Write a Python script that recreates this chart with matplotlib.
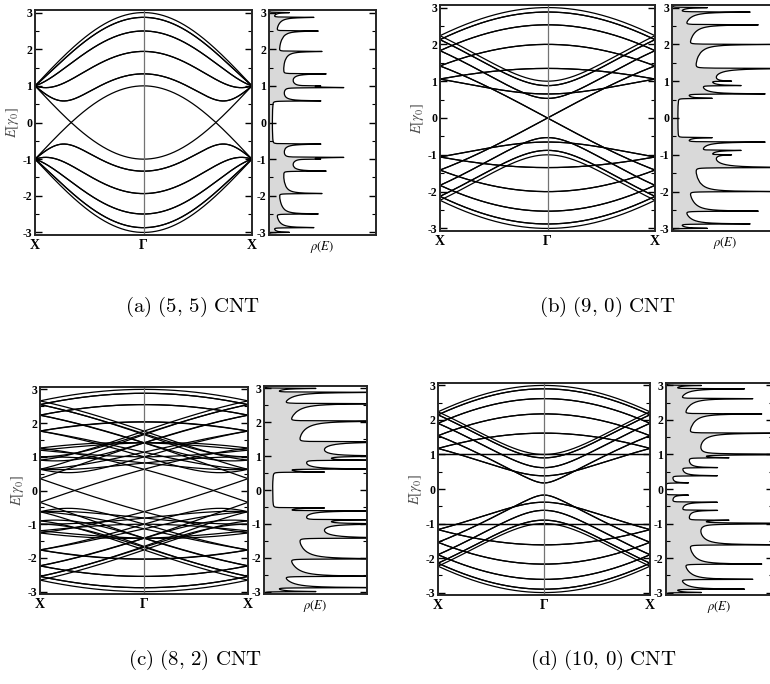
import numpy as np
import matplotlib as mp
mp.use('Agg')
import matplotlib.pyplot as plt
from matplotlib.ticker import MultipleLocator
from math import gcd

# nanotube chiral indices (n, m) and subfigure letters
chiralities = [(5, 5), (9, 0), (8, 2), (10, 0)]
letters = ['a', 'b', 'c', 'd']
gamma0 = 1.0          # nearest neighbour hopping, energies in units of gamma0
eta = 0.0035          # lorentzian broadening used for rho(E)
dos_max = 23.0        # x-limit of the DOS panels (states / unit cell / gamma0)
k_labels = ['X', 'Γ', 'X']
e_ticks = [-3, -2, -1, 0, 1, 2, 3]

# panel boxes in pixels: (left, right, top, bottom)
band_px = [(35, 252, 10, 235), (440, 655, 5, 231), (40, 248, 387, 594), (438, 650, 383, 595)]
dos_px = [(269, 376, 10, 235), (672, 779, 5, 231), (264, 367, 386, 594), (666, 773, 383, 595)]
cap_xy = [(193, 307), (607, 307), (195, 660), (603, 660)]

W, H = 770, 684


def zone_folded_bands(n, m, nk):
    """Tight-binding bands of an (n,m) tube from zone folding of graphene."""
    dR = gcd(2 * m + n, 2 * n + m)
    N = 2 * (n * n + m * m + n * m) // dR
    t1, t2 = (2 * m + n) / dR, -(2 * n + m) / dR
    a1 = np.array([np.sqrt(3) / 2, 0.5])
    a2 = np.array([np.sqrt(3) / 2, -0.5])
    b1 = 2 * np.pi * np.array([1 / np.sqrt(3), 1.0])
    b2 = 2 * np.pi * np.array([1 / np.sqrt(3), -1.0])
    K1 = (-t2 * b1 + t1 * b2) / N
    K2 = (m * b1 - n * b2) / N
    T = np.linalg.norm(t1 * a1 + t2 * a2)
    k = np.linspace(-np.pi / T, np.pi / T, nk)
    kv = k[:, None, None] * (K2 / np.linalg.norm(K2)) + np.arange(N)[None, :, None] * K1
    ka1 = kv @ a1
    ka2 = kv @ a2
    e = gamma0 * np.sqrt(np.abs(3 + 2 * np.cos(ka1) + 2 * np.cos(ka2) + 2 * np.cos(ka1 - ka2)))
    return k * T / np.pi, e


def density_of_states(n, m, nk=40000, de=0.0005):
    _, e = zone_folded_bands(n, m, nk)
    allE = np.concatenate([e.ravel(), -e.ravel()])
    edges = np.arange(-3.4, 3.4 + de, de)
    cnt, _ = np.histogram(allE, bins=edges)
    E = 0.5 * (edges[1:] + edges[:-1])
    rho = cnt / (nk * de)
    x = np.arange(-0.4, 0.4 + de / 2, de)
    lor = eta / np.pi / (x ** 2 + eta ** 2) * de
    return E, np.convolve(rho, lor, mode='same')


def box(p):
    l, r, t, b = p
    return [l / W, 1 - b / H, (r - l) / W, (b - t) / H]


mp.rc('font', family='Liberation Serif')
mp.rc('mathtext', fontset='stix')
mp.rc('axes', unicode_minus=False)

fig = plt.figure(figsize=(W / 100, H / 100), dpi=100)

for i, (n, m) in enumerate(chiralities):
    kx, e = zone_folded_bands(n, m, 801)
    E, rho = density_of_states(n, m)

    ax = fig.add_axes(box(band_px[i]))
    for j in range(e.shape[1]):
        ax.plot(kx, e[:, j], color='k', lw=0.9)
        ax.plot(kx, -e[:, j], color='k', lw=0.9)
    ax.axvline(0, color='0.45', lw=0.9)
    ax.set_xlim(-1, 1)
    ax.set_xticks([-1, 0, 1])
    ax.set_xticklabels(k_labels, fontweight='bold', fontsize=10)
    ax.tick_params(axis='x', length=0, pad=3)
    ax.set_ylabel(r'$E[\gamma_0]$', fontsize=10.5, color='0.3', labelpad=1)

    ad = fig.add_axes(box(dos_px[i]))
    ad.fill_betweenx(E, 0, rho, color='0.85', lw=0)
    ad.plot(rho, E, color='k', lw=0.9)
    ad.set_xlim(0, dos_max)
    ad.set_xticks([])
    ad.set_xlabel(r'$\rho(E)$', fontsize=9, labelpad=3)

    for a in (ax, ad):
        a.set_ylim(-3.07, 3.07)
        a.set_yticks(e_ticks)
        a.set_yticklabels([str(v) for v in e_ticks], fontweight='bold', fontsize=8.5)
        a.yaxis.set_minor_locator(MultipleLocator(0.5))
        a.tick_params(axis='y', which='both', direction='in', left=True, right=True, pad=2)
        a.tick_params(axis='y', which='major', length=5, width=1)
        a.tick_params(axis='y', which='minor', length=3, width=0.8)
        for s in a.spines.values():
            s.set_linewidth(1.4)
            s.set_color('0.15')

    cx, cy = cap_xy[i]
    fig.text(cx / W, 1 - cy / H,
             r'$\mathrm{(%s)}\ (%d,\,%d)\ \mathrm{CNT}$' % (letters[i], n, m),
             math_fontfamily='cm', fontsize=15, ha='center', va='center')

plt.savefig('out.png', dpi=100)
